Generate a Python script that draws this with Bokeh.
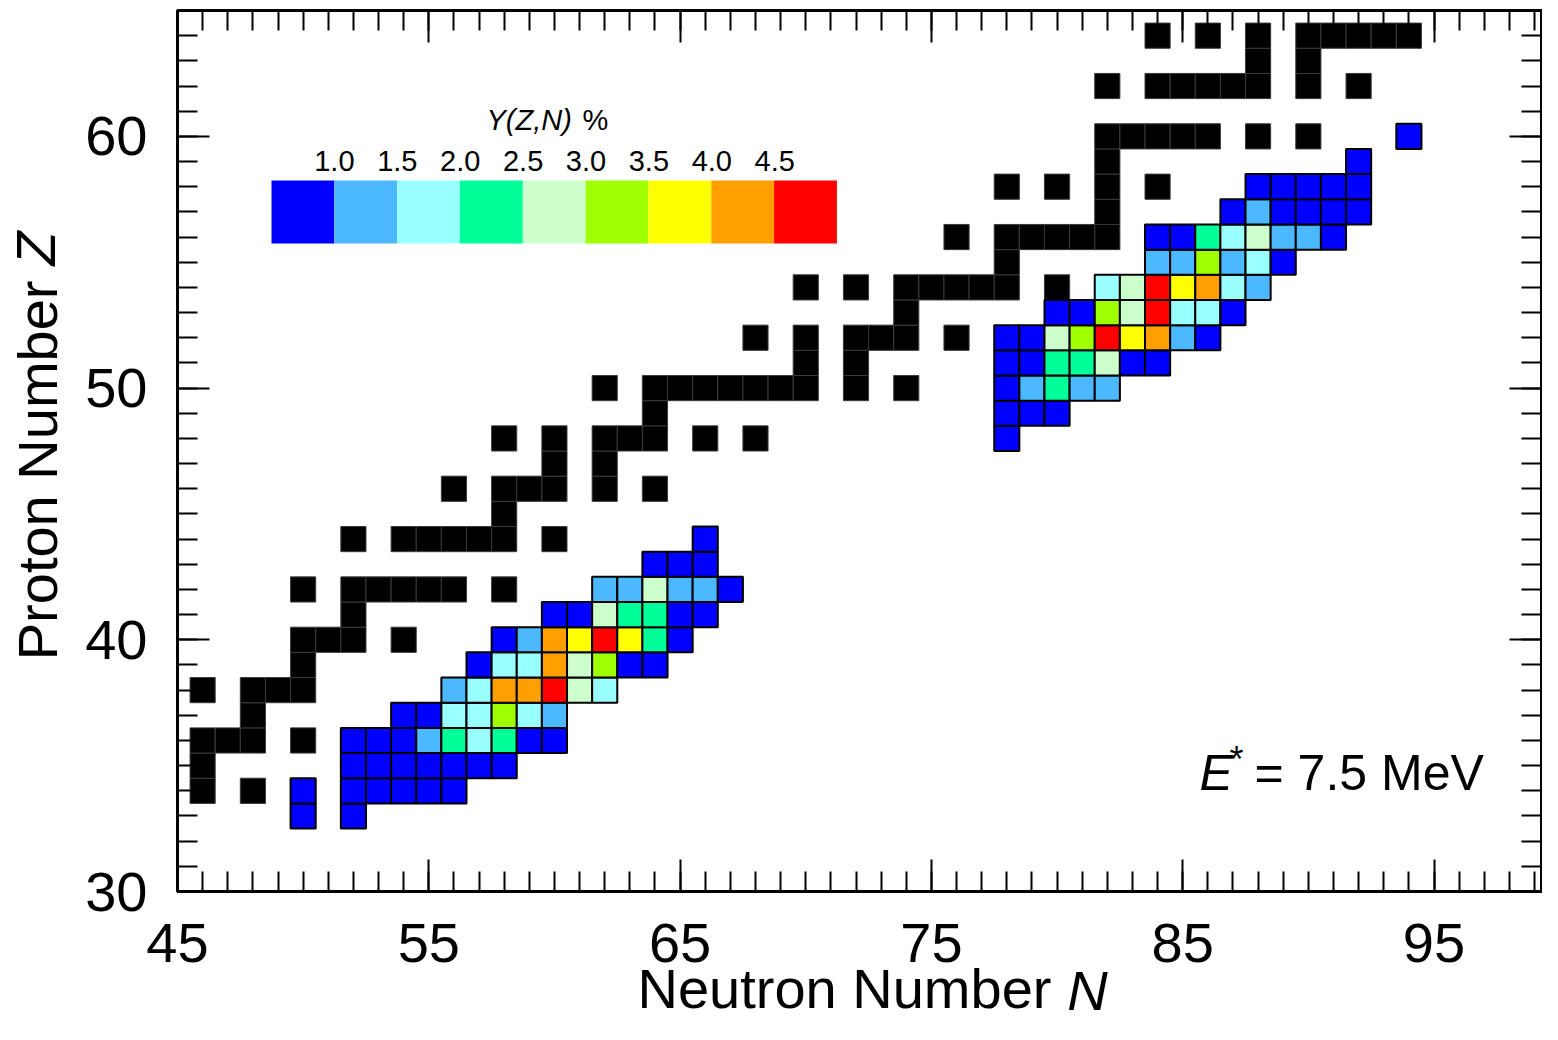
import math
from bokeh.plotting import figure
from bokeh.models import (Range1d, FixedTicker, LinearAxis, Label,
                          ColumnDataSource, LinearColorMapper)
from bokeh.transform import transform
from bokeh.embed import file_html
from bokeh.resources import INLINE

# ---------------- data ----------------
# stable nuclei (black squares), listed row by row (Z)
stable_N = [46, 48,
            46,
            46, 47, 48, 50,
            48,
            46, 48, 49, 50,
            50,
            50, 51, 52, 54,
            52,
            50, 52, 53, 54, 55, 56, 58,
            52, 54, 55, 56, 57, 58, 60,
            58,
            56, 58, 59, 60, 62, 64,
            60, 62,
            58, 60, 62, 63, 64, 66, 68,
            64,
            62, 64, 65, 66, 67, 68, 69, 70, 72, 74,
            70, 72,
            68, 70, 72, 73, 74, 76,
            74,
            70, 72, 74, 75, 76, 77, 78, 80,
            78,
            76, 78, 79, 80, 81, 82,
            82,
            78, 80, 82, 84,
            82,
            82, 83, 84, 85, 86, 88, 90,
            82, 84, 85, 86, 87, 88, 90, 92,
            88, 90,
            84, 86, 88, 90, 91, 92, 93, 94]
stable_Z = [34, 34,
            35,
            36, 36, 36, 36,
            37,
            38, 38, 38, 38,
            39,
            40, 40, 40, 40,
            41,
            42, 42, 42, 42, 42, 42, 42,
            44, 44, 44, 44, 44, 44, 44,
            45,
            46, 46, 46, 46, 46, 46,
            47, 47,
            48, 48, 48, 48, 48, 48, 48,
            49,
            50, 50, 50, 50, 50, 50, 50, 50, 50, 50,
            51, 51,
            52, 52, 52, 52, 52, 52,
            53,
            54, 54, 54, 54, 54, 54, 54, 54,
            55,
            56, 56, 56, 56, 56, 56,
            57,
            58, 58, 58, 58,
            59,
            60, 60, 60, 60, 60, 60, 60,
            62, 62, 62, 62, 62, 62, 62, 62,
            63, 63,
            64, 64, 64, 64, 64, 64, 64, 64]

# fragment yields Y(Z,N) in %, row by row (Z)
yield_N = [50, 52,
           50, 52, 53, 54, 55, 56,
           52, 53, 54, 55, 56, 57, 58,
           52, 53, 54, 55, 56, 57, 58, 59, 60,
           54, 55, 56, 57, 58, 59, 60,
           56, 57, 58, 59, 60, 61, 62,
           57, 58, 59, 60, 61, 62, 63, 64,
           58, 59, 60, 61, 62, 63, 64, 65,
           60, 61, 62, 63, 64, 65, 66,
           62, 63, 64, 65, 66, 67,
           64, 65, 66,
           66,
           78,
           78, 79, 80,
           78, 79, 80, 81, 82,
           78, 79, 80, 81, 82, 83, 84,
           78, 79, 80, 81, 82, 83, 84, 85, 86,
           80, 81, 82, 83, 84, 85, 86, 87,
           82, 83, 84, 85, 86, 87, 88,
           84, 85, 86, 87, 88, 89,
           84, 85, 86, 87, 88, 89, 90, 91,
           87, 88, 89, 90, 91, 92,
           88, 89, 90, 91, 92,
           92,
           94]
yield_Z = [33, 33,
           34, 34, 34, 34, 34, 34,
           35, 35, 35, 35, 35, 35, 35,
           36, 36, 36, 36, 36, 36, 36, 36, 36,
           37, 37, 37, 37, 37, 37, 37,
           38, 38, 38, 38, 38, 38, 38,
           39, 39, 39, 39, 39, 39, 39, 39,
           40, 40, 40, 40, 40, 40, 40, 40,
           41, 41, 41, 41, 41, 41, 41,
           42, 42, 42, 42, 42, 42,
           43, 43, 43,
           44,
           48,
           49, 49, 49,
           50, 50, 50, 50, 50,
           51, 51, 51, 51, 51, 51, 51,
           52, 52, 52, 52, 52, 52, 52, 52, 52,
           53, 53, 53, 53, 53, 53, 53, 53,
           54, 54, 54, 54, 54, 54, 54,
           55, 55, 55, 55, 55, 55,
           56, 56, 56, 56, 56, 56, 56, 56,
           57, 57, 57, 57, 57, 57,
           58, 58, 58, 58, 58,
           59,
           60]
yield_Y = [0.3, 0.4,
           0.4, 0.6, 0.7, 0.8, 0.7, 0.5,
           0.5, 0.7, 0.8, 0.9, 0.9, 0.8, 0.6,
           0.4, 0.6, 0.9, 1.3, 2.2, 1.8, 2.1, 0.9, 0.6,
           0.6, 0.9, 1.7, 1.9, 3.1, 1.8, 1.2,
           1.1, 1.6, 4.2, 4.3, 4.7, 2.7, 1.6,
           0.8, 1.7, 1.9, 4.1, 2.8, 3.2, 0.9, 0.7,
           0.7, 1.4, 4.4, 3.8, 4.8, 3.6, 2.3, 0.8,
           0.8, 0.9, 2.6, 2.4, 2.1, 0.9, 0.6,
           1.1, 1.3, 2.6, 1.2, 1.1, 0.5,
           0.6, 0.8, 0.7,
           0.4,
           0.4,
           0.6, 0.7, 0.5,
           0.8, 1.2, 2.1, 1.3, 1.1,
           0.7, 0.9, 2.3, 2.2, 2.8, 0.9, 0.6,
           0.5, 0.8, 2.6, 3.3, 4.9, 3.7, 4.1, 1.4, 0.7,
           0.8, 0.9, 3.1, 2.9, 4.6, 1.7, 1.8, 0.8,
           1.6, 2.7, 4.7, 3.9, 4.2, 1.9, 1.1,
           1.3, 1.4, 3.2, 1.2, 1.6, 0.8,
           0.7, 0.9, 2.2, 1.8, 2.6, 1.3, 1.2, 0.6,
           0.6, 1.1, 0.9, 0.8, 0.7, 0.5,
           0.5, 0.7, 0.6, 0.7, 0.5,
           0.4,
           0.3]

palette = ["#0000ff", "#4cb8ff", "#99ffff", "#00ff99", "#ccffcc",
           "#a0ff00", "#ffff00", "#ffa000", "#ff0000"]
cbar_bounds = [0.5, 1.0, 1.5, 2.0, 2.5, 3.0, 3.5, 4.0, 4.5, 5.0]
cbar_tick_labels = ["1.0", "1.5", "2.0", "2.5", "3.0", "3.5", "4.0", "4.5"]

x_major = [45, 55, 65, 75, 85, 95]
y_major = [30, 40, 50, 60]
x_title = "Neutron Number"
x_title_var = "N"
y_title = "Proton Number"
y_title_var = "Z"

# ---------------- layout ----------------
W, H = 1542, 1024
BL, BR, BT, BB = 177, 1, 10, 133
X0 = 45.0
XS = 25.13
X1 = X0 + (W - BL - BR) / XS
Y0, Y1 = 30.0, 65.0
FL, FB = BL, H - BB                  # frame left / bottom in canvas px
YS = (H - BT - BB) / (Y1 - Y0)

def dx(px):
    return X0 + (px - FL) / XS

def dy(py):
    return Y0 + (FB - py) / YS

FONT = "Liberation Sans"

p = figure(width=W, height=H, x_range=Range1d(X0, X1), y_range=Range1d(Y0, Y1),
           output_backend="svg", toolbar_location=None,
           min_border_left=BL, min_border_right=BR,
           min_border_top=BT, min_border_bottom=BB)
p.grid.visible = False
p.background_fill_color = "white"
p.border_fill_color = "white"
p.outline_line_color = "black"
p.outline_line_width = 3

x_minor = list(range(45, 100))
y_minor = list(range(30, 66))

def style_axis(ax, labels=True, standoff=20):
    ax.axis_line_color = None
    ax.major_tick_in = 32
    ax.major_tick_out = 0
    ax.minor_tick_in = 20
    ax.minor_tick_out = 0
    ax.major_tick_line_width = 2
    ax.minor_tick_line_width = 2
    ax.major_tick_line_color = "black"
    ax.minor_tick_line_color = "black"
    if labels:
        ax.major_label_text_font = FONT
        ax.major_label_text_font_size = "56px"
        ax.major_label_text_color = "black"
        ax.major_label_standoff = standoff
    else:
        ax.major_label_text_font_size = "0px"
        ax.major_label_standoff = 0

xa = p.xaxis[0]
xa.ticker = FixedTicker(ticks=x_major, minor_ticks=x_minor)
style_axis(xa, True, 32)
ya = p.yaxis[0]
ya.ticker = FixedTicker(ticks=y_major, minor_ticks=y_minor)
style_axis(ya, True, 30)

top = LinearAxis(ticker=FixedTicker(ticks=x_major, minor_ticks=x_minor),
                 major_label_overrides={t: "" for t in x_major})
style_axis(top, False)
p.add_layout(top, "above")
right = LinearAxis(ticker=FixedTicker(ticks=y_major, minor_ticks=y_minor),
                   major_label_overrides={t: "" for t in y_major})
style_axis(right, False)
p.add_layout(right, "right")

# axis titles as label-only axes (plain part + italic variable)
def title_axis(pos, text, italic, standoff, orientation):
    ax = LinearAxis(ticker=FixedTicker(ticks=[pos], minor_ticks=[]),
                    major_label_overrides={pos: text})
    ax.axis_line_color = None
    ax.major_tick_line_color = None
    ax.minor_tick_line_color = None
    ax.major_tick_in = 0
    ax.major_tick_out = 0
    ax.minor_tick_in = 0
    ax.minor_tick_out = 0
    ax.major_label_text_font = FONT
    ax.major_label_text_font_size = "56px"
    ax.major_label_text_color = "black"
    ax.major_label_text_font_style = "italic" if italic else "normal"
    ax.major_label_standoff = standoff
    ax.major_label_orientation = orientation
    return ax

xpos_title = round(dx(844), 2)
xpos_var = round(dx(1087), 2)
ypos_title = round(dy(470), 2)
ypos_var = round(dy(248), 2)

p.add_layout(title_axis(xpos_title, x_title, False, -8, "horizontal"), "below")
p.add_layout(title_axis(xpos_var, x_title_var, True, -64, "horizontal"), "below")
p.add_layout(title_axis(ypos_title, y_title, False, 13, "parallel"), "left")
p.add_layout(title_axis(ypos_var, y_title_var, True, -64, "parallel"), "left")

# ---------------- cells ----------------
mapper = LinearColorMapper(palette=palette, low=cbar_bounds[0], high=cbar_bounds[-1],
                           low_color=palette[0], high_color=palette[-1])

stable_src = ColumnDataSource(dict(N=stable_N, Z=stable_Z))
p.rect(x="N", y="Z", width=1, height=1, source=stable_src,
       fill_color="black", line_color="#3a3a3a", line_width=1)

yield_src = ColumnDataSource(dict(N=yield_N, Z=yield_Z, Y=yield_Y))
p.rect(x="N", y="Z", width=1, height=1, source=yield_src,
       fill_color=transform("Y", mapper), line_color="black", line_width=2)

# ---------------- colour key ----------------
cb_left, cb_w, cb_bot, cb_h = dx(271), 2.5, dy(243), 2.5
cb_mid = [(a + b) / 2 for a, b in zip(cbar_bounds[:-1], cbar_bounds[1:])]
cb_src = ColumnDataSource(dict(
    x=[cb_left + cb_w * (i + 0.5) for i in range(len(cb_mid))],
    y=[cb_bot + cb_h / 2] * len(cb_mid),
    v=cb_mid))
p.rect(x="x", y="y", width=cb_w, height=cb_h, source=cb_src,
       fill_color=transform("v", mapper), line_color=None)

def lab(xp, yp, text, size, italic=False, align="left"):
    p.add_layout(Label(x=dx(xp), y=dy(yp), text=text, text_font=FONT,
                       text_font_size=size,
                       text_font_style="italic" if italic else "normal",
                       text_align=align, text_baseline="middle",
                       text_color="black"))

for i, t in enumerate(cbar_tick_labels):
    lab(271 + 62.9 * (i + 1), 160, t, "29px", align="center")

lab(486, 119, "Y(Z,N)", "29px", italic=True)
lab(582, 119, "%", "29px")

# ---------------- annotation E* ----------------
lab(1199, 772, "E", "50px", italic=True)
lab(1229, 759, "*", "36px")
lab(1254, 772, "= 7.5 MeV", "50px")

open("out.html", "w").write(file_html(p, INLINE))
